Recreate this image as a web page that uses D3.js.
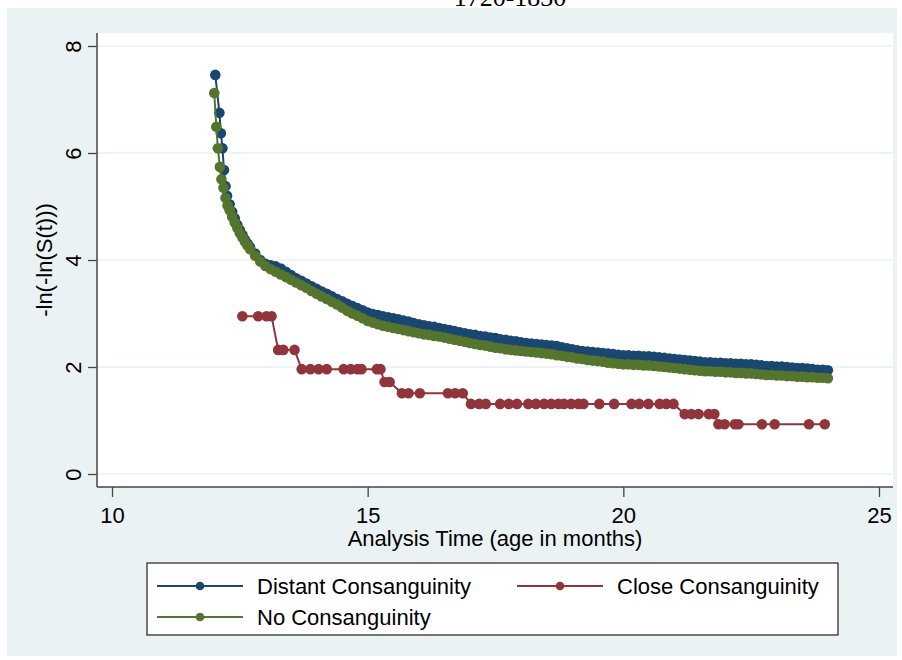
<!DOCTYPE html>
<html>
<head>
<meta charset="utf-8">
<script src="https://cdn.jsdelivr.net/npm/d3@7/dist/d3.min.js"></script>
<style>
  body { margin: 0; background: #fff; }
  text { font-family: Arial, "Liberation Sans", sans-serif; }
</style>
</head>
<body>
<div id="chart"></div>
<script>
// values
const xTicks = [10, 15, 20, 25];
const yTicks = [0, 2, 4, 6, 8];
const titleText = "1720-1830";
const xTitle = "Analysis Time (age in months)";
const yTitle = "-ln(-ln(S(t)))";
const seriesNames = ["Distant Consanguinity", "Close Consanguinity", "No Consanguinity"];

const distantT = [12.02, 12.10, 12.13, 12.16, 12.19, 12.22, 12.25, 12.30, 12.35, 12.40, 12.45, 12.50, 12.55, 12.60, 12.65,
  12.7, 12.8, 12.9, 13.0, 13.1, 13.2, 13.3, 13.4, 13.5, 13.6, 13.7, 13.8, 13.9, 14.0, 14.1, 14.2, 14.3, 14.4, 14.5, 14.6, 14.7, 14.8, 14.9,
  15.0, 15.1, 15.2, 15.3, 15.4, 15.5, 15.6, 15.7, 15.8, 15.9, 16.0, 16.1, 16.2, 16.3, 16.4, 16.5, 16.6, 16.7, 16.8, 16.9,
  17.0, 17.1, 17.2, 17.3, 17.4, 17.5, 17.6, 17.7, 17.8, 17.9, 18.0, 18.1, 18.2, 18.3, 18.4, 18.5, 18.6, 18.7, 18.8, 18.9,
  19.0, 19.1, 19.2, 19.3, 19.4, 19.5, 19.6, 19.7, 19.8, 19.9, 20.0, 20.1, 20.2, 20.3, 20.4, 20.5, 20.6, 20.7, 20.8, 20.9,
  21.0, 21.1, 21.2, 21.3, 21.4, 21.5, 21.6, 21.7, 21.8, 21.9, 22.0, 22.1, 22.2, 22.3, 22.4, 22.5, 22.6, 22.7, 22.8, 22.9,
  23.0, 23.1, 23.2, 23.3, 23.4, 23.5, 23.6, 23.7, 23.8, 23.9, 24.0];
const distantV = [7.46, 6.75, 6.37, 6.09, 5.68, 5.38, 5.20, 5.04, 4.90, 4.78, 4.66, 4.56, 4.47, 4.38, 4.31,
  4.24, 4.12, 4.00, 3.93, 3.90, 3.88, 3.84, 3.78, 3.72, 3.66, 3.61, 3.56, 3.51, 3.46, 3.41, 3.37, 3.32, 3.27, 3.23, 3.18, 3.14, 3.10, 3.06,
  3.02, 2.99, 2.97, 2.95, 2.93, 2.91, 2.89, 2.87, 2.85, 2.82, 2.80, 2.78, 2.76, 2.75, 2.73, 2.71, 2.69, 2.67, 2.65, 2.63,
  2.61, 2.60, 2.58, 2.57, 2.55, 2.54, 2.52, 2.51, 2.49, 2.48, 2.46, 2.45, 2.44, 2.43, 2.42, 2.41, 2.40, 2.39, 2.37, 2.35,
  2.33, 2.31, 2.30, 2.29, 2.28, 2.27, 2.26, 2.25, 2.24, 2.23, 2.22, 2.22, 2.21, 2.21, 2.20, 2.20, 2.19, 2.18, 2.17, 2.16,
  2.15, 2.14, 2.13, 2.12, 2.11, 2.10, 2.09, 2.09, 2.08, 2.08, 2.07, 2.07, 2.06, 2.06, 2.05, 2.05, 2.04, 2.03, 2.02, 2.02,
  2.01, 2.01, 2.00, 1.99, 1.98, 1.98, 1.97, 1.96, 1.95, 1.95, 1.94];

const closeT = [12.55, 12.86, 13.02, 13.12, 13.25, 13.35, 13.57, 13.71, 13.88, 14.04, 14.20, 14.53, 14.67, 14.80, 14.88,
  15.18, 15.25, 15.33, 15.43, 15.67, 15.80, 16.02, 16.57, 16.71, 16.86, 17.02, 17.18, 17.31, 17.59, 17.76, 17.92,
  18.14, 18.29, 18.45, 18.59, 18.73, 18.84, 18.98, 19.12, 19.22, 19.53, 19.82, 20.16, 20.31, 20.49, 20.71, 20.84, 20.98,
  21.20, 21.33, 21.47, 21.67, 21.78, 21.86, 21.98, 22.18, 22.25, 22.71, 22.96, 23.63, 23.94];
const closeV = [2.95, 2.95, 2.95, 2.95, 2.32, 2.32, 2.32, 1.96, 1.96, 1.96, 1.96, 1.96, 1.96, 1.96, 1.96,
  1.96, 1.96, 1.72, 1.72, 1.51, 1.51, 1.51, 1.51, 1.51, 1.51, 1.31, 1.31, 1.31, 1.31, 1.31, 1.31,
  1.31, 1.31, 1.31, 1.31, 1.31, 1.31, 1.31, 1.31, 1.31, 1.31, 1.31, 1.31, 1.31, 1.31, 1.31, 1.31, 1.31,
  1.12, 1.12, 1.12, 1.12, 1.12, 0.93, 0.93, 0.93, 0.93, 0.93, 0.93, 0.93, 0.93];

const noneT = [12.00, 12.04, 12.07, 12.11, 12.14, 12.18, 12.22, 12.26, 12.30, 12.35, 12.40, 12.45, 12.50, 12.55, 12.60, 12.65,
  12.7, 12.8, 12.9, 13.0, 13.1, 13.2, 13.3, 13.4, 13.5, 13.6, 13.7, 13.8, 13.9, 14.0, 14.1, 14.2, 14.3, 14.4, 14.5, 14.6, 14.7, 14.8, 14.9,
  15.0, 15.1, 15.2, 15.3, 15.4, 15.5, 15.6, 15.7, 15.8, 15.9, 16.0, 16.1, 16.2, 16.3, 16.4, 16.5, 16.6, 16.7, 16.8, 16.9,
  17.0, 17.1, 17.2, 17.3, 17.4, 17.5, 17.6, 17.7, 17.8, 17.9, 18.0, 18.1, 18.2, 18.3, 18.4, 18.5, 18.6, 18.7, 18.8, 18.9,
  19.0, 19.1, 19.2, 19.3, 19.4, 19.5, 19.6, 19.7, 19.8, 19.9, 20.0, 20.1, 20.2, 20.3, 20.4, 20.5, 20.6, 20.7, 20.8, 20.9,
  21.0, 21.1, 21.2, 21.3, 21.4, 21.5, 21.6, 21.7, 21.8, 21.9, 22.0, 22.1, 22.2, 22.3, 22.4, 22.5, 22.6, 22.7, 22.8, 22.9,
  23.0, 23.1, 23.2, 23.3, 23.4, 23.5, 23.6, 23.7, 23.8, 23.9, 24.0];
const noneV = [7.12, 6.49, 6.09, 5.74, 5.51, 5.35, 5.16, 5.02, 4.93, 4.81, 4.70, 4.60, 4.50, 4.42, 4.34, 4.27,
  4.20, 4.08, 3.97, 3.89, 3.83, 3.78, 3.73, 3.68, 3.63, 3.58, 3.53, 3.48, 3.42, 3.37, 3.32, 3.27, 3.22, 3.17, 3.11, 3.05, 3.00, 2.96, 2.91,
  2.86, 2.83, 2.80, 2.77, 2.75, 2.73, 2.71, 2.69, 2.67, 2.65, 2.63, 2.61, 2.60, 2.58, 2.57, 2.55, 2.53, 2.51, 2.49, 2.47,
  2.45, 2.43, 2.41, 2.40, 2.38, 2.36, 2.35, 2.33, 2.32, 2.31, 2.30, 2.29, 2.28, 2.27, 2.26, 2.25, 2.24, 2.22, 2.21, 2.19,
  2.18, 2.16, 2.15, 2.13, 2.12, 2.11, 2.10, 2.08, 2.07, 2.06, 2.05, 2.05, 2.04, 2.04, 2.03, 2.03, 2.02, 2.01, 2.00, 1.99,
  1.98, 1.97, 1.96, 1.95, 1.94, 1.93, 1.92, 1.92, 1.91, 1.91, 1.90, 1.90, 1.89, 1.89, 1.88, 1.88, 1.87, 1.86, 1.85, 1.85,
  1.84, 1.84, 1.83, 1.83, 1.82, 1.82, 1.81, 1.81, 1.80, 1.80, 1.79];

const colors = ["#1a476f", "#90353b", "#55752f"];
const bg = "#eaf2f3";

const W = 902, H = 660;
const plot = { left: 97, right: 893, top: 33, bottom: 487 };

const svg = d3.select('#chart').append('svg')
  .attr('width', W)
  .attr('height', H);

// graph region
svg.append('rect')
  .attr('x', 7).attr('y', 8)
  .attr('width', 890).attr('height', 648)
  .attr('fill', bg);

// title, cut off at the top edge as in the source image
svg.append('text')
  .attr('x', 510).attr('y', 6)
  .attr('text-anchor', 'middle')
  .style('font-family', '"Liberation Serif", "Times New Roman", serif')
  .style('font-size', '26px')
  .attr('fill', '#000')
  .text(titleText);

// plot region
svg.append('rect')
  .attr('x', plot.left).attr('y', plot.top)
  .attr('width', plot.right - plot.left).attr('height', plot.bottom - plot.top)
  .attr('fill', '#fff');

const x = d3.scaleLinear().domain([10, 25]).range([112, 879]);
const y = d3.scaleLinear().domain([0, 8]).range([474, 46]);

// gridlines
svg.append('g').selectAll('line')
  .data(yTicks)
  .enter().append('line')
  .attr('x1', plot.left).attr('x2', plot.right)
  .attr('y1', d => y(d)).attr('y2', d => y(d))
  .attr('stroke', bg)
  .attr('stroke-width', 1.6);

// axes
const yAxis = svg.append('g')
  .attr('transform', `translate(${plot.left},0)`)
  .call(d3.axisLeft(y).tickValues(yTicks).tickSize(9).tickSizeOuter(0));
yAxis.select('.domain').attr('d', `M0,${plot.top}V${plot.bottom}`);
yAxis.selectAll('.tick text')
  .attr('x', 0).attr('y', 0)
  .attr('dy', '0.35em')
  .attr('text-anchor', 'middle')
  .attr('transform', 'translate(-24,0) rotate(-90)');

const xAxis = svg.append('g')
  .attr('transform', `translate(0,${plot.bottom})`)
  .call(d3.axisBottom(x).tickValues(xTicks).tickSize(10).tickPadding(10).tickSizeOuter(0));
xAxis.select('.domain').attr('d', `M${plot.left},0H${plot.right}`);

svg.selectAll('.domain').attr('stroke', '#444').attr('stroke-width', 1.5);
svg.selectAll('.tick line').attr('stroke', '#444').attr('stroke-width', 1.3);
svg.selectAll('.tick text')
  .style('font-size', '22px')
  .style('font-family', 'Arial, "Liberation Sans", sans-serif')
  .attr('fill', '#000');

// axis titles
svg.append('text')
  .attr('x', (plot.left + plot.right) / 2).attr('y', 546)
  .attr('text-anchor', 'middle')
  .style('font-size', '22px')
  .text(xTitle);

svg.append('text')
  .attr('transform', `translate(52,${(plot.top + plot.bottom) / 2}) rotate(-90)`)
  .attr('text-anchor', 'middle')
  .style('font-size', '22px')
  .text(yTitle);

// series, drawn in legend order so green sits on top of navy
const series = [
  { name: seriesNames[0], t: distantT, v: distantV, color: colors[0] },
  { name: seriesNames[1], t: closeT, v: closeV, color: colors[1] },
  { name: seriesNames[2], t: noneT, v: noneV, color: colors[2] }
];

const line = d3.line()
  .x(d => x(d[0]))
  .y(d => y(d[1]));

series.forEach(s => {
  const pts = s.t.map((t, i) => [t, s.v[i]]);
  const g = svg.append('g');
  g.append('path')
    .datum(pts)
    .attr('fill', 'none')
    .attr('stroke', s.color)
    .attr('stroke-width', 2)
    .attr('d', line);
  g.selectAll('circle')
    .data(pts)
    .enter().append('circle')
    .attr('cx', d => x(d[0]))
    .attr('cy', d => y(d[1]))
    .attr('r', 5.3)
    .attr('fill', s.color);
});

// legend
const legend = svg.append('g');
legend.append('rect')
  .attr('x', 147).attr('y', 563)
  .attr('width', 691).attr('height', 72)
  .attr('fill', '#fff')
  .attr('stroke', '#222')
  .attr('stroke-width', 1.2);

const legendItems = [
  { s: series[0], kx: 157, ky: 586 },
  { s: series[1], kx: 517, ky: 586 },
  { s: series[2], kx: 157, ky: 617 }
];
legendItems.forEach(it => {
  legend.append('line')
    .attr('x1', it.kx).attr('x2', it.kx + 86)
    .attr('y1', it.ky).attr('y2', it.ky)
    .attr('stroke', it.s.color)
    .attr('stroke-width', 2);
  legend.append('circle')
    .attr('cx', it.kx + 43).attr('cy', it.ky)
    .attr('r', 4.3)
    .attr('fill', it.s.color);
  legend.append('text')
    .attr('x', it.kx + 100).attr('y', it.ky)
    .attr('dy', '0.35em')
    .style('font-size', '22px')
    .text(it.s.name);
});
</script>
</body>
</html>
